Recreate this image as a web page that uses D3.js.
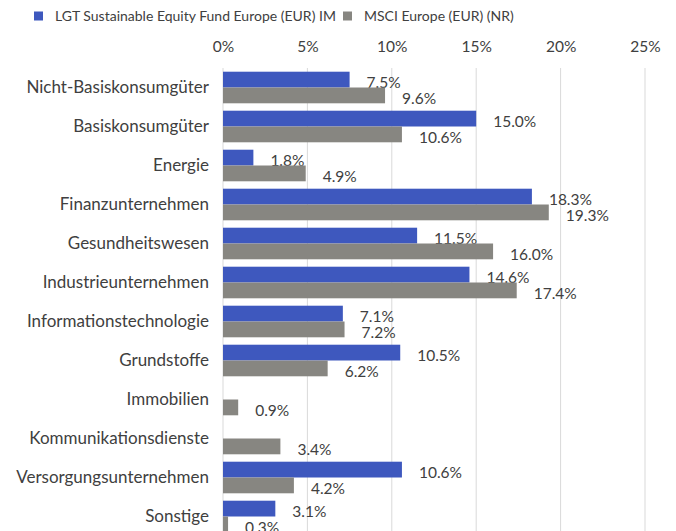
<!DOCTYPE html>
<html>
<head>
<meta charset="utf-8">
<script src="https://cdn.jsdelivr.net/npm/d3@7"></script>
<style>
  body { margin: 0; background: #fff; }
  svg { display: block; font-family: Lato, sans-serif; }
</style>
</head>
<body>
<div id="chartContainer"></div>
<script>
const categories = [
    'Nicht-Basiskonsumgüter', 'Basiskonsumgüter', 'Energie', 'Finanzunternehmen',
    'Gesundheitswesen', 'Industrieunternehmen', 'Informationstechnologie', 'Grundstoffe',
    'Immobilien', 'Kommunikationsdienste', 'Versorgungsunternehmen', 'Sonstige'
];
const fundValues = [7.5, 15.0, 1.8, 18.3, 11.5, 14.6, 7.1, 10.5, null, null, 10.6, 3.1];
const indexValues = [9.6, 10.6, 4.9, 19.3, 16.0, 17.4, 7.2, 6.2, 0.9, 3.4, 4.2, 0.3];
const seriesNames = ['LGT Sustainable Equity Fund Europe (EUR) IM', 'MSCI Europe (EUR) (NR)'];
const xTicks = [0, 5, 10, 15, 20, 25];

const width = 676;
const height = 531;
const margin = { top: 68, right: 31, bottom: -5, left: 223 };
const colors = ['#3E58BE', '#878681'];
const textColor = '#404040';

const svg = d3.select('#chartContainer')
    .append('svg')
    .attr('width', width)
    .attr('height', height);

const scaleX = d3.scaleLinear()
    .domain([0, 25])
    .range([margin.left, width - margin.right]);

const scaleY = d3.scaleBand()
    .domain(categories)
    .range([margin.top, height - margin.bottom])
    .paddingInner(0.19)
    .paddingOuter(0.095);

const scaleSeries = d3.scaleBand()
    .domain([0, 1])
    .range([0, scaleY.bandwidth()]);

// gridlines
svg.append('g')
    .selectAll('line')
    .data(xTicks)
    .enter()
    .append('line')
    .attr('x1', d => scaleX(d))
    .attr('x2', d => scaleX(d))
    .attr('y1', margin.top)
    .attr('y2', height)
    .attr('stroke', '#d9d9d9')
    .attr('stroke-width', 1);

// X Axis (top)
const xAxis = svg.append('g')
    .attr('transform', `translate(0, ${margin.top - 21})`)
    .call(d3.axisTop(scaleX).tickValues(xTicks).tickSize(0).tickPadding(0).tickFormat(d => d + '%'));
xAxis.select('.domain').remove();
xAxis.selectAll('text')
    .attr('dy', '0.35em')
    .attr('y', 0)
    .style('font-size', '15.5px')
    .style('font-family', 'Lato, sans-serif')
    .attr('fill', textColor);

// Y Axis
const yAxis = svg.append('g')
    .attr('transform', `translate(${margin.left - 14}, 0)`)
    .call(d3.axisLeft(scaleY).tickSize(0).tickPadding(0));
yAxis.select('.domain').remove();
yAxis.selectAll('text')
    .attr('dy', '0.35em')
    .style('font-size', '17px')
    .style('font-family', 'Lato, sans-serif')
    .attr('fill', textColor);

// bars
const rows = categories.map((c, i) => ({ category: c, values: [fundValues[i], indexValues[i]] }));

const groups = svg.append('g')
    .selectAll('g')
    .data(rows)
    .enter()
    .append('g')
    .attr('transform', d => `translate(0, ${scaleY(d.category)})`);

const cells = groups.selectAll('g.cell')
    .data(d => d.values.map((v, s) => ({ v: v, s: s })).filter(d => d.v !== null))
    .enter()
    .append('g')
    .attr('class', 'cell');

cells.append('rect')
    .attr('x', scaleX(0))
    .attr('y', d => scaleSeries(d.s))
    .attr('width', d => scaleX(d.v) - scaleX(0))
    .attr('height', scaleSeries.bandwidth())
    .attr('fill', d => colors[d.s]);

cells.append('text')
    .attr('x', d => scaleX(d.v) + 17)
    .attr('y', d => scaleSeries(d.s) + scaleSeries.bandwidth() / 2 + 3)
    .attr('dy', '0.35em')
    .style('font-size', '15.5px')
    .attr('fill', textColor)
    .text(d => d.v.toFixed(1) + '%');

// legend
const legendX = [34, 343];
const legend = svg.append('g')
    .selectAll('g')
    .data(seriesNames)
    .enter()
    .append('g')
    .attr('transform', (d, i) => `translate(${legendX[i]}, 16)`);

legend.append('rect')
    .attr('x', 0)
    .attr('y', -4.5)
    .attr('width', 9)
    .attr('height', 9)
    .attr('fill', (d, i) => colors[i]);

legend.append('text')
    .attr('x', 21)
    .attr('dy', '0.35em')
    .style('font-size', '14px')
    .attr('fill', textColor)
    .text(d => d);
</script>
</body>
</html>
